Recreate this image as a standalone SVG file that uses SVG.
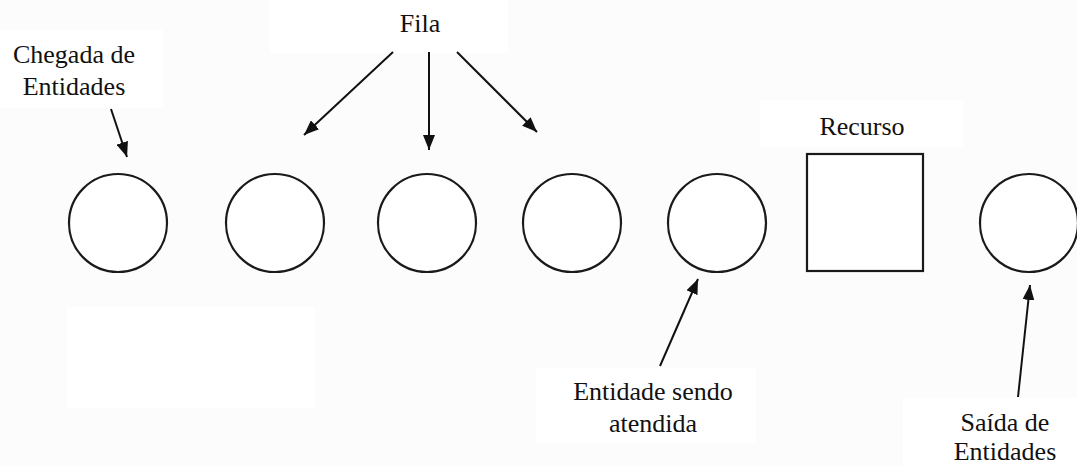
<svg xmlns="http://www.w3.org/2000/svg" width="1077" height="466" viewBox="0 0 1077 466">
<style>
.bg{fill:#fcfcfc}
.pad{fill:#ffffff}
.node{fill:#ffffff;stroke:#1a1a1a;stroke-width:2.2}
.lbl{font-family:"Liberation Serif","Times New Roman",serif;font-size:26px;fill:#111;text-anchor:middle}
.arr{stroke:#111;stroke-width:2;fill:none;marker-end:url(#ah)}
</style>
<defs>
<marker id="ah" markerUnits="userSpaceOnUse" markerWidth="16" markerHeight="12" refX="15" refY="6" orient="auto">
<path d="M0,0 L15,6 L0,12 z" fill="#111"/>
</marker>
</defs>
<rect class="bg" x="0" y="0" width="1077" height="466"/>
<rect class="pad" x="0" y="30" width="163" height="78"/>
<rect class="pad" x="270" y="0" width="238" height="53"/>
<rect class="pad" x="760" y="100" width="203" height="47"/>
<rect class="pad" x="67" y="307" width="248" height="101"/>
<rect class="pad" x="536" y="368" width="220" height="75"/>
<rect class="pad" x="903" y="398" width="174" height="68"/>
<g id="connectors">
<line class="arr" x1="111" y1="109" x2="127" y2="157"/>
<line class="arr" x1="393" y1="52" x2="304" y2="135"/>
<line class="arr" x1="429" y1="52" x2="429" y2="150"/>
<line class="arr" x1="457" y1="52" x2="537" y2="132"/>
<line class="arr" x1="660" y1="366" x2="698" y2="279"/>
<line class="arr" x1="1018" y1="397" x2="1030" y2="285"/>
</g>
<g id="entity1"><circle class="node" cx="118" cy="223" r="49"/></g>
<g id="entity2"><circle class="node" cx="275" cy="223" r="49"/></g>
<g id="entity3"><circle class="node" cx="427" cy="223" r="49"/></g>
<g id="entity4"><circle class="node" cx="572" cy="223" r="49"/></g>
<g id="entity5"><circle class="node" cx="717" cy="223" r="49"/></g>
<g id="resource"><rect class="node" x="807" y="154" width="116" height="117"/></g>
<g id="entity6"><circle class="node" cx="1029" cy="223" r="49"/></g>
<g id="label-chegada"><text class="lbl" x="74" y="63">Chegada de</text><text class="lbl" x="74" y="95">Entidades</text></g>
<g id="label-fila"><text class="lbl" x="420" y="32">Fila</text></g>
<g id="label-recurso"><text class="lbl" x="862" y="135">Recurso</text></g>
<g id="label-atendida"><text class="lbl" x="653" y="400">Entidade sendo</text><text class="lbl" x="653" y="432">atendida</text></g>
<g id="label-saida"><text class="lbl" x="1005" y="431">Saída de</text><text class="lbl" x="1005" y="460">Entidades</text></g>
</svg>
